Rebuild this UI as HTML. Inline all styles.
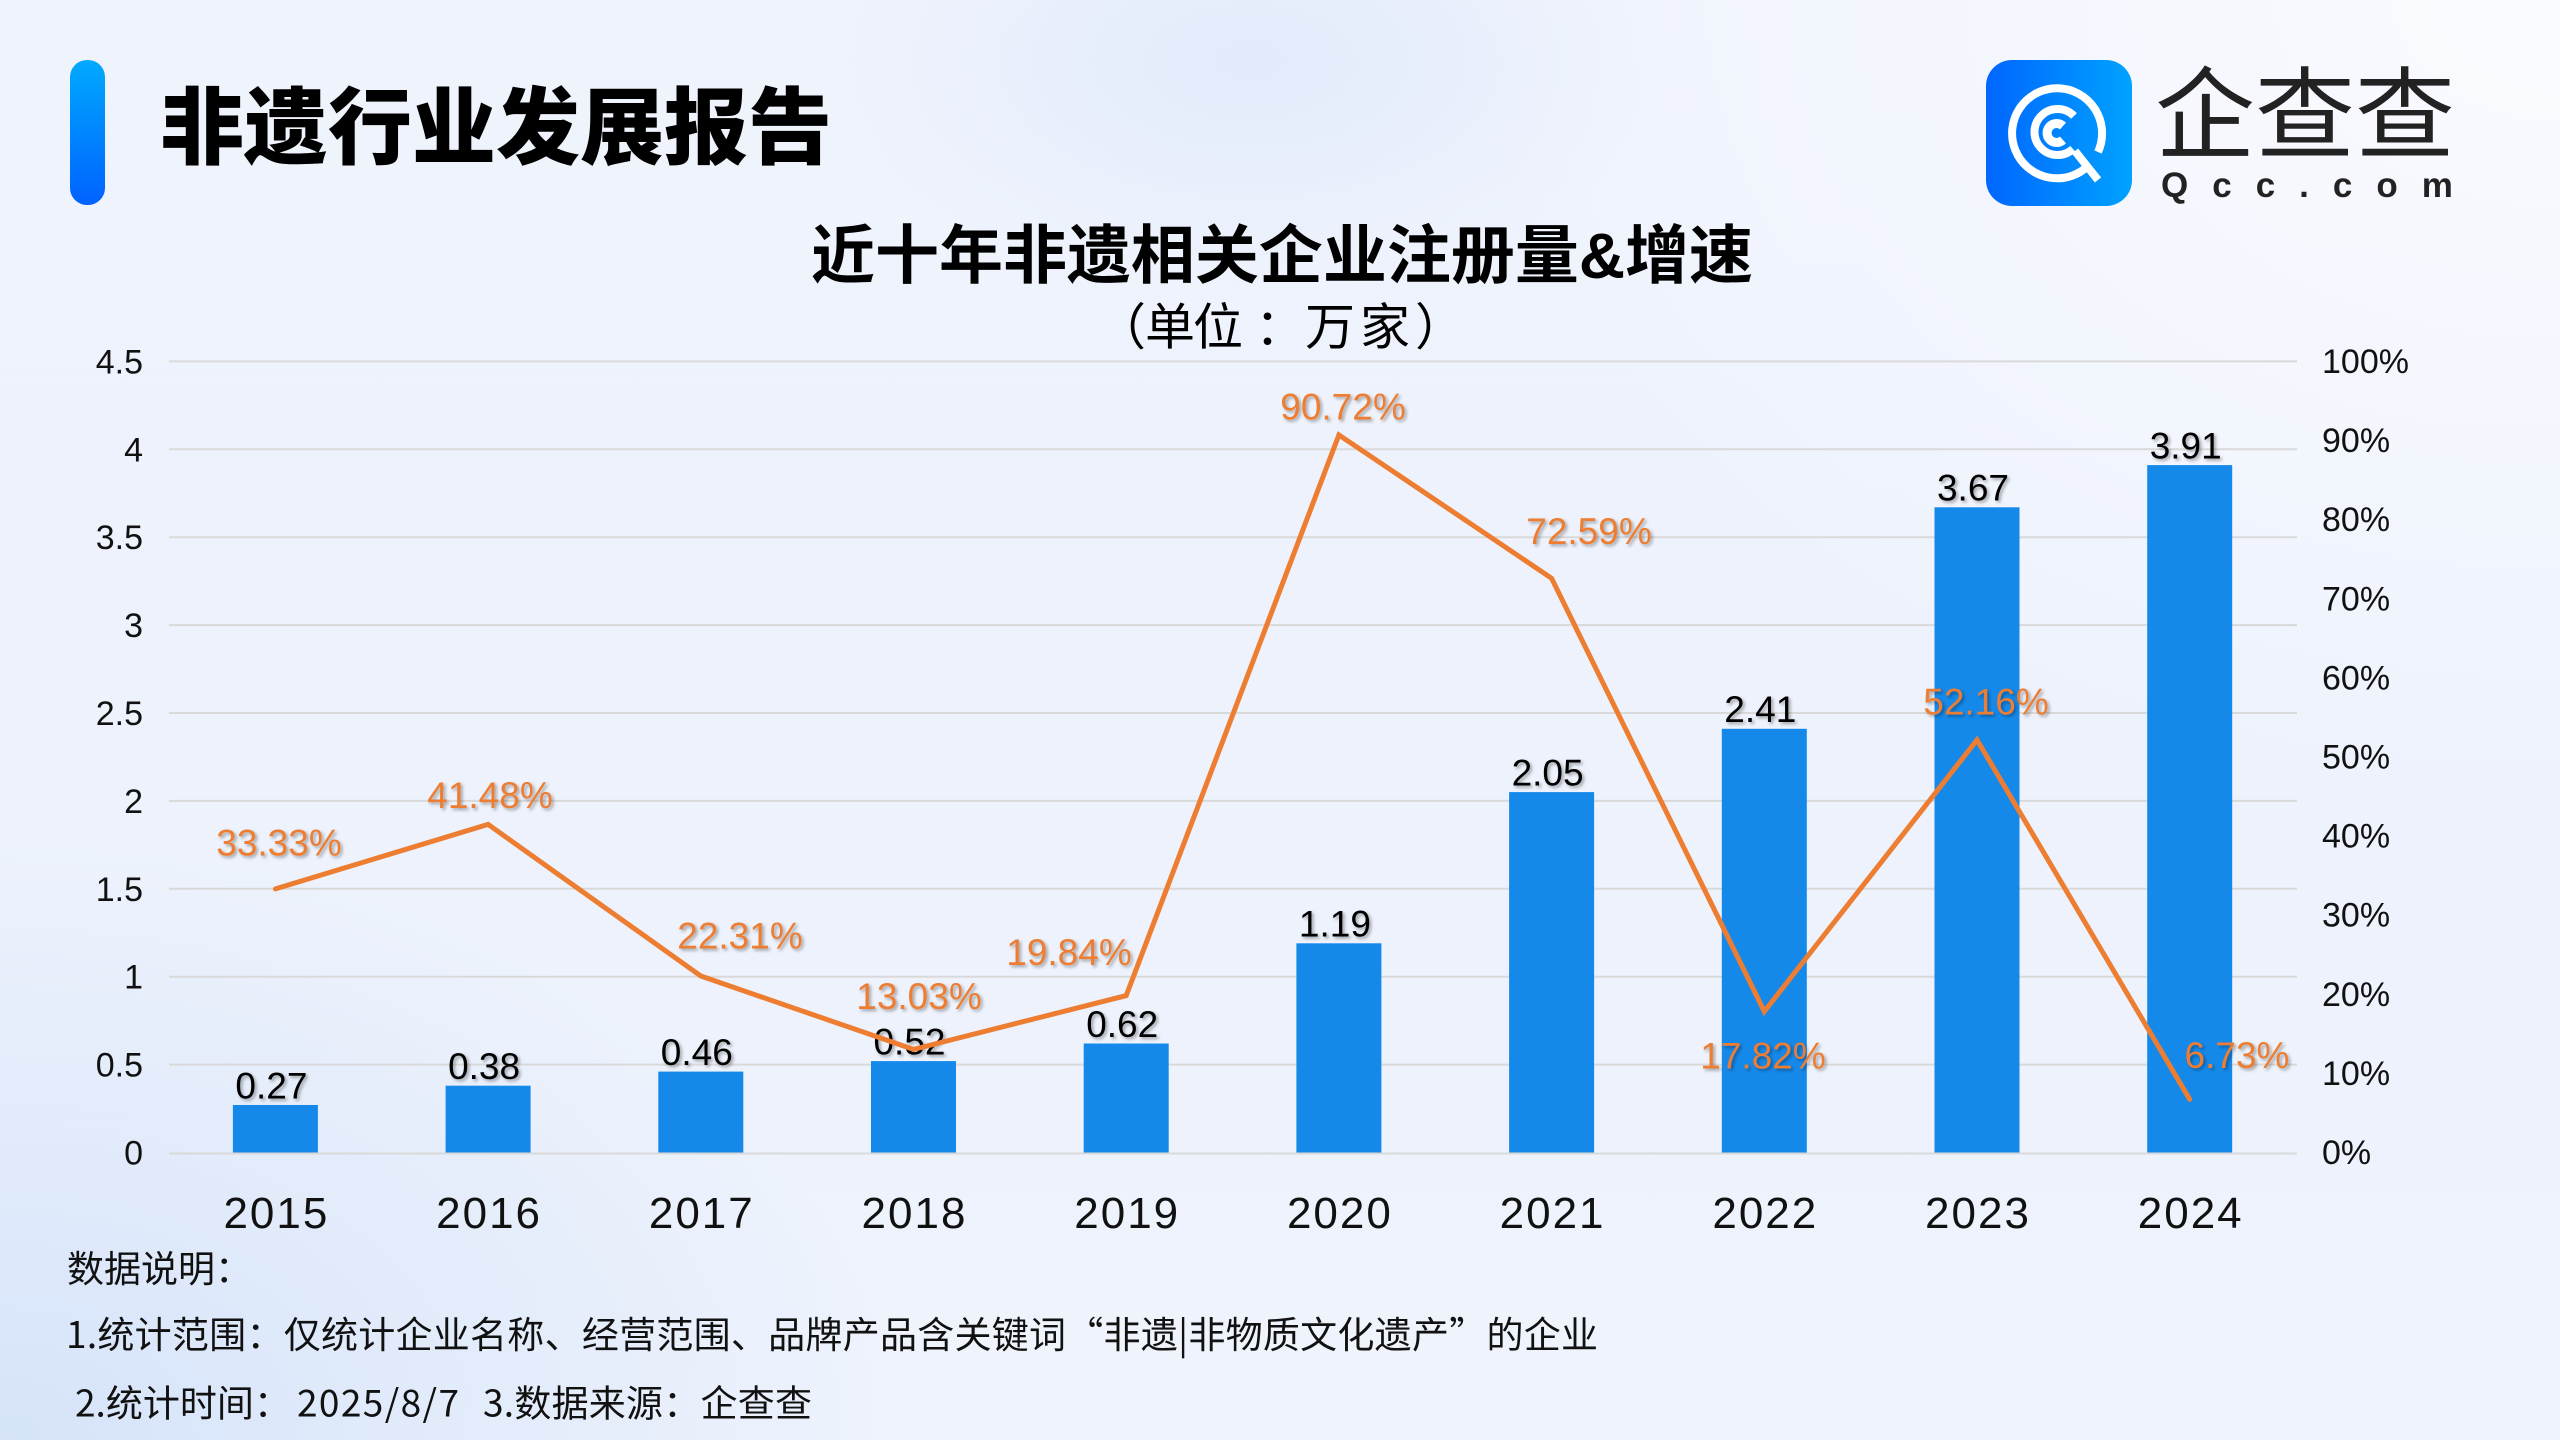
<!DOCTYPE html>
<html><head><meta charset="utf-8">
<style>
html,body{margin:0;padding:0;}
body{width:2560px;height:1440px;overflow:hidden;position:relative;
background:
radial-gradient(ellipse 420px 230px at 1250px 60px, rgba(215,228,250,0.55), rgba(215,228,250,0) 100%),
radial-gradient(ellipse 900px 600px at 0px 1440px, rgba(205,222,248,0.75), rgba(205,222,248,0) 100%),
radial-gradient(ellipse 1100px 800px at 2560px 0px, rgba(250,251,255,0.95), rgba(250,251,255,0) 100%),
linear-gradient(180deg,#eff3fc 0%,#edf2fc 60%,#eef3fc 100%);}
svg{position:absolute;left:0;top:0;}
</style></head>
<body>
<svg width="2560" height="1440" viewBox="0 0 2560 1440" xmlns="http://www.w3.org/2000/svg">
<defs>
<linearGradient id="acc" x1="0" y1="0" x2="0" y2="1"><stop offset="0" stop-color="#00aaff"/><stop offset="1" stop-color="#0062ff"/></linearGradient>
<linearGradient id="logo" x1="0" y1="0" x2="1" y2="0"><stop offset="0" stop-color="#0066ff"/><stop offset="1" stop-color="#00a2ff"/></linearGradient>
<filter id="sh" x="-20%" y="-30%" width="140%" height="160%"><feDropShadow dx="2" dy="2" stdDeviation="1.5" flood-color="#000" flood-opacity="0.35"/></filter>
</defs>

<!-- header -->
<rect x="70" y="60" width="35" height="145" rx="17" fill="url(#acc)"/>
<text x="160" y="157.5" font-family="'Liberation Sans','Noto Sans CJK SC',sans-serif" font-weight="900" font-size="84" fill="#000">非遗行业发展报告</text>

<!-- logo -->
<rect x="1986" y="60" width="146" height="146" rx="26" fill="url(#logo)"/>
<g fill="none" stroke="#fff" stroke-width="8">
<path d="M 2089 165 A 45 45 0 1 1 2098 152"/>
<path d="M 2073 149 A 23 23 0 1 1 2074 116"/>
<path d="M 2063 140 A 9.5 9.5 0 1 1 2063 126" stroke-width="9"/>
<path d="M 2075 151 L 2098 180"/>
</g>
<text x="2155" y="150.5" font-family="'Liberation Sans','Noto Sans CJK SC',sans-serif" font-size="100" fill="#222">企查查</text>
<text x="2161" y="197" font-family="'Liberation Sans',sans-serif" font-weight="bold" font-size="35" letter-spacing="24" fill="#222">Qcc.com</text>

<!-- chart titles -->
<text x="811" y="278" textLength="942" lengthAdjust="spacing" font-family="'Liberation Sans','Noto Sans CJK SC',sans-serif" font-weight="bold" font-size="64" fill="#000">近十年非遗相关企业注册量&amp;增速</text>
<text x="1096 1145 1193 1255 1305 1360 1415" y="344.5" font-family="'Noto Sans CJK SC',sans-serif" font-size="50" fill="#000">（单位：万家）</text>

<!-- gridlines -->
<g stroke="#d9d9d9" stroke-width="2">
<line x1="169" y1="361.4" x2="2297" y2="361.4"/>
<line x1="169" y1="449.3" x2="2297" y2="449.3"/>
<line x1="169" y1="537.2" x2="2297" y2="537.2"/>
<line x1="169" y1="625.1" x2="2297" y2="625.1"/>
<line x1="169" y1="713.0" x2="2297" y2="713.0"/>
<line x1="169" y1="800.9" x2="2297" y2="800.9"/>
<line x1="169" y1="888.8" x2="2297" y2="888.8"/>
<line x1="169" y1="976.7" x2="2297" y2="976.7"/>
<line x1="169" y1="1064.6" x2="2297" y2="1064.6"/>
<line x1="169" y1="1153.5" x2="2297" y2="1153.5"/>
</g>

<!-- left axis labels -->
<g font-family="'Liberation Sans',sans-serif" font-size="34" fill="#111" text-anchor="end">
<text x="143" y="373.4">4.5</text>
<text x="143" y="461.3">4</text>
<text x="143" y="549.2">3.5</text>
<text x="143" y="637.1">3</text>
<text x="143" y="725.0">2.5</text>
<text x="143" y="812.9">2</text>
<text x="143" y="900.8">1.5</text>
<text x="143" y="988.7">1</text>
<text x="143" y="1076.6">0.5</text>
<text x="143" y="1164.5">0</text>
</g>

<!-- right axis labels -->
<g font-family="'Liberation Sans',sans-serif" font-size="34" fill="#111">
<text x="2322" y="373">100%</text>
<text x="2322" y="452.1">90%</text>
<text x="2322" y="531.2">80%</text>
<text x="2322" y="610.3">70%</text>
<text x="2322" y="689.4">60%</text>
<text x="2322" y="768.5">50%</text>
<text x="2322" y="847.6">40%</text>
<text x="2322" y="926.7">30%</text>
<text x="2322" y="1005.8">20%</text>
<text x="2322" y="1084.9">10%</text>
<text x="2322" y="1164">0%</text>
</g>

<!-- bars -->
<g fill="#1589ea">
<rect x="232.9" y="1105" width="85" height="47.5"/>
<rect x="445.6" y="1085.7" width="85" height="66.8"/>
<rect x="658.3" y="1071.6" width="85" height="80.9"/>
<rect x="871.0" y="1061.1" width="85" height="91.4"/>
<rect x="1083.7" y="1043.5" width="85" height="109"/>
<rect x="1296.4" y="943.3" width="85" height="209.2"/>
<rect x="1509.1" y="792.1" width="85" height="360.4"/>
<rect x="1721.8" y="728.8" width="85" height="423.7"/>
<rect x="1934.5" y="507.3" width="85" height="645.2"/>
<rect x="2147.2" y="465.1" width="85" height="687.4"/>
</g>

<!-- bar labels -->
<g font-family="'Liberation Sans',sans-serif" font-size="37" fill="#000" text-anchor="middle" filter="url(#sh)">
<text x="271.4" y="1098.3">0.27</text>
<text x="484.1" y="1079">0.38</text>
<text x="696.8" y="1064.9">0.46</text>
<text x="909.5" y="1054.4">0.52</text>
<text x="1122.2" y="1036.8">0.62</text>
<text x="1334.9" y="936.6">1.19</text>
<text x="1547.6" y="785.4">2.05</text>
<text x="1760.3" y="722.1">2.41</text>
<text x="1973.0" y="500.6">3.67</text>
<text x="2185.7" y="458.4">3.91</text>
</g>

<!-- growth line -->
<polyline fill="none" stroke="#ed7d31" stroke-width="5" stroke-linejoin="miter" stroke-linecap="round"
points="275.4,888.9 488.1,824.4 700.8,976.0 913.5,1049.4 1126.2,995.6 1338.9,434.9 1551.6,578.3 1764.3,1011.5 1977.0,739.9 2189.7,1099.3"/>

<!-- percent labels -->
<g font-family="'Liberation Sans',sans-serif" font-size="37" fill="#ed7d31" text-anchor="middle" filter="url(#sh)">
<text x="279" y="855.7">33.33%</text>
<text x="490" y="808.2">41.48%</text>
<text x="740" y="948.7">22.31%</text>
<text x="919" y="1009.2">13.03%</text>
<text x="1069" y="965.2">19.84%</text>
<text x="1343" y="419.7">90.72%</text>
<text x="1589" y="544.2">72.59%</text>
<text x="1763" y="1068.7">17.82%</text>
<text x="1986" y="714.7">52.16%</text>
<text x="2237" y="1068.2">6.73%</text>
</g>

<!-- year labels -->
<g font-family="'Liberation Sans',sans-serif" font-size="44" fill="#111" text-anchor="middle" letter-spacing="2">
<text x="276.4" y="1228">2015</text>
<text x="489.1" y="1228">2016</text>
<text x="701.8" y="1228">2017</text>
<text x="914.5" y="1228">2018</text>
<text x="1127.2" y="1228">2019</text>
<text x="1339.9" y="1228">2020</text>
<text x="1552.6" y="1228">2021</text>
<text x="1765.3" y="1228">2022</text>
<text x="1978.0" y="1228">2023</text>
<text x="2190.7" y="1228">2024</text>
</g>

<!-- footer -->
<g font-family="'Noto Sans CJK SC','Liberation Sans',sans-serif" font-size="37" fill="#111">
<text x="67" y="1282">数据说明：</text>
<text x="66" y="1348" textLength="1532" lengthAdjust="spacing">1.统计范围：仅统计企业名称、经营范围、品牌产品含关键词“非遗|非物质文化遗产”的企业</text>
<text x="75" y="1416.5">2.统计时间：</text>
<text x="297" y="1416.5" textLength="162" lengthAdjust="spacing">2025/8/7</text>
<text x="483" y="1416.5" textLength="329" lengthAdjust="spacing">3.数据来源：企查查</text>
</g>
</svg>
</body></html>
